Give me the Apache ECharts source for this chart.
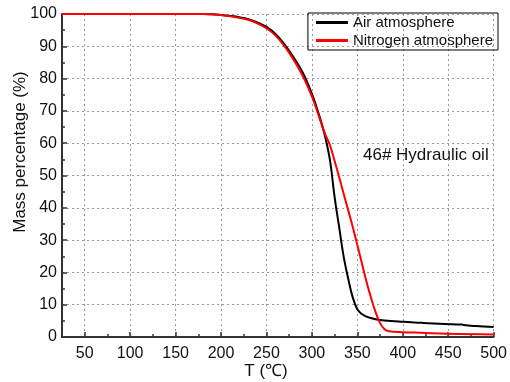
<!DOCTYPE html>
<html>
<head>
<meta charset="utf-8">
<script src="https://cdn.jsdelivr.net/npm/echarts@6/dist/echarts.min.js"></script>
<style>
  html, body { margin: 0; padding: 0; background: #fff; }
  #chart { width: 510px; height: 382px; }
</style>
</head>
<body>
<div id="chart"></div>
<script>
// temperature (℃) and mass percentage (%)
const airTemp = [25, 100, 150, 180, 190, 200, 210, 220, 230, 240, 250, 260, 270, 280, 290, 300, 305, 310, 315, 320, 325, 330, 335, 340, 345, 350, 355, 360, 370, 380, 400, 420, 440, 460, 465, 467, 480, 500];
const airMass = [100, 100, 100, 100, 99.9, 99.7, 99.4, 99.0, 98.4, 97.4, 96.0, 93.8, 90.5, 86.5, 81.8, 75.3, 71.3, 66.8, 61.5, 54.5, 43.3, 34.0, 24.8, 18.0, 12.2, 8.6, 7.1, 6.3, 5.5, 5.1, 4.7, 4.4, 4.1, 3.9, 3.9, 3.7, 3.4, 3.1];

const n2Temp = [25, 100, 150, 180, 190, 200, 210, 220, 230, 240, 250, 260, 270, 280, 290, 300, 305, 310, 315, 320, 325, 330, 335, 340, 345, 350, 355, 360, 365, 370, 375, 380, 385, 400, 420, 450, 500];
const n2Mass = [100, 100, 100, 100, 99.9, 99.7, 99.3, 98.8, 98.2, 97.1, 95.6, 93.3, 90.0, 85.8, 80.8, 74.5, 70.6, 66.4, 62.5, 59.3, 54.5, 49.5, 44.3, 39.2, 34.0, 28.5, 22.8, 17.2, 12.2, 7.8, 4.3, 2.4, 1.8, 1.5, 1.3, 1.0, 0.8];

const xMajor = [50, 100, 150, 200, 250, 300, 350, 400, 450, 500];
const xMinor = [25, 75, 125, 175, 225, 275, 325, 375, 425, 475];

const pair = (xs, ys) => xs.map((x, i) => [x, ys[i]]);

const chart = echarts.init(document.getElementById('chart'));
const font = 'Liberation Sans, Arial, sans-serif';
const axisColor = '#333';
const textColor = '#111';

const option = {
  animation: false,
  textStyle: { fontFamily: font },
  grid: { left: 62, right: 12, top: 14, bottom: 45 },
  legend: {
    right: 12,
    top: 13,
    orient: 'vertical',
    borderColor: '#000',
    borderWidth: 1,
    borderRadius: 0,
    padding: [2, 5, 2, 8],
    itemGap: 3,
    itemWidth: 32,
    itemHeight: 3,
    icon: 'rect',
    textStyle: { fontSize: 15, color: textColor, fontFamily: font },
    data: ['Air atmosphere', 'Nitrogen atmosphere']
  },
  xAxis: [
    {
      type: 'value',
      min: 25,
      max: 500,
      axisLine: { show: true, onZero: false, lineStyle: { color: axisColor, width: 2 } },
      axisTick: { inside: true, length: 5, customValues: xMajor, lineStyle: { color: axisColor, width: 1.5 } },
      axisLabel: { customValues: xMajor, fontSize: 16, color: textColor, margin: 9 },
      splitLine: { show: true, lineStyle: { color: '#999', type: [2, 3], width: 1 } }
    },
    {
      type: 'value',
      min: 25,
      max: 500,
      position: 'bottom',
      axisLine: { show: false },
      axisTick: { show: true, inside: true, length: 3, customValues: xMinor, lineStyle: { color: axisColor, width: 1.5 } },
      axisLabel: { show: false },
      splitLine: { show: false }
    }
  ],
  yAxis: {
    type: 'value',
    min: 0,
    max: 100,
    interval: 10,
    axisLine: { show: true, lineStyle: { color: axisColor, width: 2 } },
    axisTick: { inside: true, length: 5, lineStyle: { color: axisColor, width: 1.5 } },
    minorTick: { show: true, splitNumber: 2, length: 3, lineStyle: { color: axisColor, width: 1.5 } },
    axisLabel: { fontSize: 16, color: textColor, margin: 5 },
    splitLine: { show: true, lineStyle: { color: '#999', type: [2, 3], width: 1 } }
  },
  graphic: [
    {
      type: 'text',
      left: 363,
      top: 147,
      style: { text: '46# Hydraulic oil', fontSize: 17, fill: textColor, fontFamily: font }
    },
    {
      type: 'text',
      x: 20,
      y: 152,
      rotation: Math.PI / 2,
      style: { text: 'Mass percentage (%)', fontSize: 17, fill: textColor, fontFamily: font, align: 'center', verticalAlign: 'middle' }
    },
    {
      type: 'text',
      x: 266,
      y: 371,
      style: { text: 'T (℃)', fontSize: 17, fill: textColor, fontFamily: font, align: 'center', verticalAlign: 'middle' }
    }
  ],
  series: [
    {
      name: 'Air atmosphere',
      type: 'line',
      data: pair(airTemp, airMass),
      showSymbol: false,
      smooth: 0.4,
      itemStyle: { color: '#000' },
      lineStyle: { color: '#000', width: 2 },
      z: 3
    },
    {
      name: 'Nitrogen atmosphere',
      type: 'line',
      data: pair(n2Temp, n2Mass),
      showSymbol: false,
      smooth: 0.4,
      itemStyle: { color: '#ff0000' },
      lineStyle: { color: '#ff0000', width: 2 },
      z: 4
    }
  ]
};

chart.setOption(option);
</script>
</body>
</html>
